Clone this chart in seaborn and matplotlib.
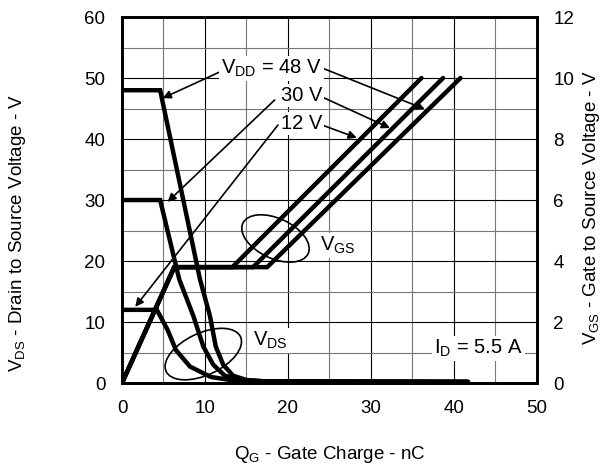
import numpy as np
import pandas as pd
import matplotlib
matplotlib.use('Agg')
import matplotlib.pyplot as plt
from matplotlib.patches import Ellipse
from matplotlib.transforms import ScaledTranslation
import seaborn as sns

# gate charge (nC) / drain-source voltage (V) for each VDD
vdd_labels = ['48 V', '30 V', '12 V']
qg_vds_48 = [0, 4.6, 9.4, 10.6, 11.3, 12.2, 13.4, 15.0, 17.0, 41.7]
vds_48 = [48, 48, 17, 11, 6, 3, 1.2, 0.5, 0.3, 0.2]
qg_vds_30 = [0, 4.6, 6.9, 8.6, 9.8, 11.0, 12.4, 14.5, 17.0, 41.7]
vds_30 = [30, 30, 17, 11, 6, 3, 1.2, 0.5, 0.3, 0.2]
qg_vds_12 = [0, 4.2, 5.5, 6.5, 8.2, 10.7, 13.5, 17.0, 41.7]
vds_12 = [12, 12, 8.7, 5.4, 2.7, 1.0, 0.4, 0.25, 0.2]

# gate charge (nC) / gate-source voltage (V) for each VDD
qg_vgs_48 = [0, 6.3, 17.5, 40.8]
qg_vgs_30 = [0, 6.3, 15.8, 38.7]
qg_vgs_12 = [0, 6.3, 13.3, 36.1]
vgs = [0, 3.8, 3.8, 10]

sns.set_style('white')
plt.rcParams['font.family'] = ['Liberation Sans', 'DejaVu Sans']
plt.rcParams['mathtext.fontset'] = 'custom'
plt.rcParams['mathtext.rm'] = 'Liberation Sans'
plt.rcParams['text.color'] = 'black'
plt.rcParams['xtick.color'] = 'black'
plt.rcParams['ytick.color'] = 'black'
fs = 13.5
fs_note = 14.5

fig, ax = plt.subplots(figsize=(6.1, 4.66), dpi=100)
fig.subplots_adjust(left=0.2, right=0.880, bottom=0.178, top=0.9635)
ax2 = ax.twinx()

for q, v in [(qg_vds_48, vds_48), (qg_vds_30, vds_30), (qg_vds_12, vds_12)]:
    sns.lineplot(x=q, y=v, ax=ax, color='black', linewidth=3.2, estimator=None,
                 sort=False, solid_joinstyle='miter')
for q in [qg_vgs_48, qg_vgs_30, qg_vgs_12]:
    sns.lineplot(x=q, y=vgs, ax=ax2, color='black', linewidth=3.2, estimator=None,
                 sort=False, solid_joinstyle='miter')

ax.set_xlim(0, 50)
ax.set_ylim(0, 60)
ax2.set_ylim(0, 12)
ax.set_xticks(np.arange(0, 51, 10))
ax.set_xticks(np.arange(5, 50, 10), minor=True)
ax.set_yticks(np.arange(0, 61, 10))
ax.set_yticks(np.arange(5, 60, 10), minor=True)
ax2.set_yticks(np.arange(0, 13, 2))
ax.grid(which='major', color='black', linewidth=0.8)
ax.grid(which='minor', color='#777777', linewidth=0.8)
ax.set_axisbelow(True)
ax.tick_params(which='both', length=0, pad=12, labelsize=fs)
ax2.tick_params(which='both', length=0, pad=12, labelsize=fs)
for a in (ax, ax2):
    for s in a.spines.values():
        s.set_linewidth(2)
        s.set_color('black')

ax.set_xlabel('')
ax.set_ylabel('')
ax2.set_ylabel('')
fig.text(0.54, 0.024, r'Q$_\mathrm{G}$ - Gate Charge - nC', ha='center', va='center', fontsize=fs)
fig.text(0.028, 0.5, r'V$_\mathrm{DS}$ - Drain to Source Voltage - V', ha='center', va='center',
         rotation=90, fontsize=fs)
fig.text(0.970, 0.554, r'V$_\mathrm{GS}$ - Gate to Source Voltage - V', ha='center', va='center',
         rotation=90, fontsize=fs)

box = dict(facecolor='white', edgecolor='none', pad=1.5)
arrow = dict(arrowstyle='-|>', color='black', lw=1.2, mutation_scale=12, shrinkA=0, shrinkB=0)
dt = ax.transData

# VDD labels with arrows to VDS and VGS curves
label_y = [51.6, 47.2, 42.6]
left_start = [(11.8, 51.0), (18.4, 46.4), (18.8, 42.3)]
left_end = [(4.9, 46.7), (5.5, 29.7), (1.6, 12.5)]
right_start = [(24.2, 51.6), (24.1, 46.9), (24.1, 42.3)]
right_end = [(36.5, 44.9), (32.3, 41.8), (28.3, 40.2)]
for i, lab in enumerate(vdd_labels):
    txt = r'V$_\mathrm{DD}$ = ' + lab if i == 0 else lab
    ax2.annotate('', xy=left_end[i], xycoords=dt, xytext=left_start[i], textcoords=dt,
                 arrowprops=arrow, zorder=4)
    ax2.annotate('', xy=right_end[i], xycoords=dt, xytext=right_start[i], textcoords=dt,
                 arrowprops=arrow, zorder=4)
    ax2.text(24.1, label_y[i], txt, transform=dt, ha='right', va='center', fontsize=fs_note,
             bbox=box, zorder=5)

ax2.text(23.9, 22.6, r'V$_\mathrm{GS}$', transform=dt, ha='left', va='center', fontsize=fs_note,
         bbox=box, zorder=5)
ax2.text(15.8, 7.0, r'V$_\mathrm{DS}$', transform=dt, ha='left', va='center', fontsize=fs_note,
         bbox=box, zorder=5)
ax2.text(48.3, 5.7, r'I$_\mathrm{D}$ = 5.5 A', transform=dt, ha='right', va='center', fontsize=fs_note,
         bbox=box, zorder=5)

# ellipses drawn in inches around a data-space centre
for (xc, yc), w, h, ang in [((18.5, 23.7), 0.72, 0.40, -25), ((9.8, 4.75), 0.82, 0.42, 25)]:
    tr = fig.dpi_scale_trans + ScaledTranslation(xc, yc, dt)
    ax2.add_patch(Ellipse((0, 0), w, h, angle=ang, transform=tr, fill=False,
                          edgecolor='black', linewidth=1.2, zorder=4))

fig.savefig('out.png', dpi=100)
